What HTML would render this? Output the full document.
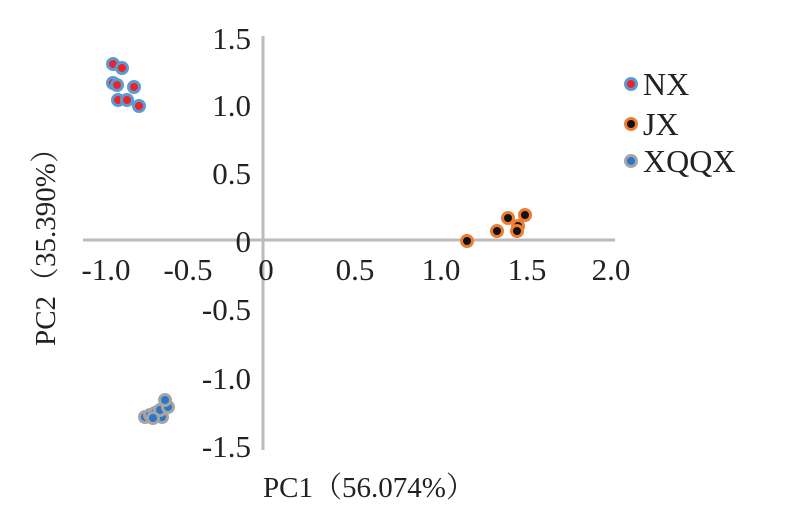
<!DOCTYPE html><html><head><style>body{margin:0;background:#fff}</style></head><body>
<svg width="797" height="516" xmlns="http://www.w3.org/2000/svg" font-family="Liberation Serif, Noto Serif CJK SC, serif" fill="#222">
<rect width="797" height="516" fill="#fff"/>
<line x1="83" y1="240" x2="615" y2="240" stroke="#bbb" stroke-width="3"/>
<line x1="263" y1="36" x2="263" y2="450" stroke="#bbb" stroke-width="3"/>
<g font-size="31" text-anchor="end">
<text x="251" y="49">1.5</text><text x="251" y="116">1.0</text><text x="251" y="184">0.5</text><text x="251" y="252">0</text>
<text x="251" y="320">-0.5</text><text x="251" y="389">-1.0</text><text x="251" y="457">-1.5</text></g>
<g font-size="31" text-anchor="middle">
<text x="106" y="280">-1.0</text><text x="188" y="280">-0.5</text><text x="266" y="280">0</text><text x="355" y="280">0.5</text><text x="441" y="280">1.0</text><text x="527" y="280">1.5</text><text x="611" y="280">2.0</text></g>
<text x="263" y="497" font-size="29">PC1（56.074%）</text>
<text transform="translate(55,240) rotate(-90)" font-size="29" text-anchor="middle">PC2（35.390%）</text>
<g stroke="#5b9bd5" stroke-width="3" fill="#e8262a">
<circle cx="113" cy="64" r="5.5"/><circle cx="122" cy="68" r="5.5"/><circle cx="113" cy="83" r="5.5"/><circle cx="117" cy="85" r="5.5"/><circle cx="134" cy="87" r="5.5"/><circle cx="118" cy="100" r="5.5"/><circle cx="127" cy="100" r="5.5"/><circle cx="139" cy="106" r="5.5"/>
<circle cx="631" cy="84" r="5.5"/></g>
<g stroke="#ed7d31" stroke-width="3" fill="#111">
<circle cx="467" cy="241" r="5.5"/><circle cx="497" cy="231" r="5.5"/><circle cx="508" cy="218" r="5.5"/><circle cx="518" cy="226" r="5.5"/><circle cx="517" cy="231" r="5.5"/><circle cx="525" cy="215" r="5.5"/>
<circle cx="631" cy="124" r="5.5"/></g>
<g stroke="#a5a5a5" stroke-width="3" fill="#2e75c6">
<circle cx="145" cy="417" r="5.5"/><circle cx="150" cy="415" r="5.5"/><circle cx="155" cy="413" r="5.5"/><circle cx="162" cy="417" r="5.5"/><circle cx="160" cy="410" r="5.5"/><circle cx="168" cy="407" r="5.5"/><circle cx="165" cy="400" r="5.5"/><circle cx="153" cy="418" r="5.5"/>
<circle cx="631" cy="161" r="5.5"/></g>
<g font-size="32"><text x="643" y="95">NX</text><text x="643" y="135">JX</text><text x="643" y="172">XQQX</text></g>
</svg></body></html>
